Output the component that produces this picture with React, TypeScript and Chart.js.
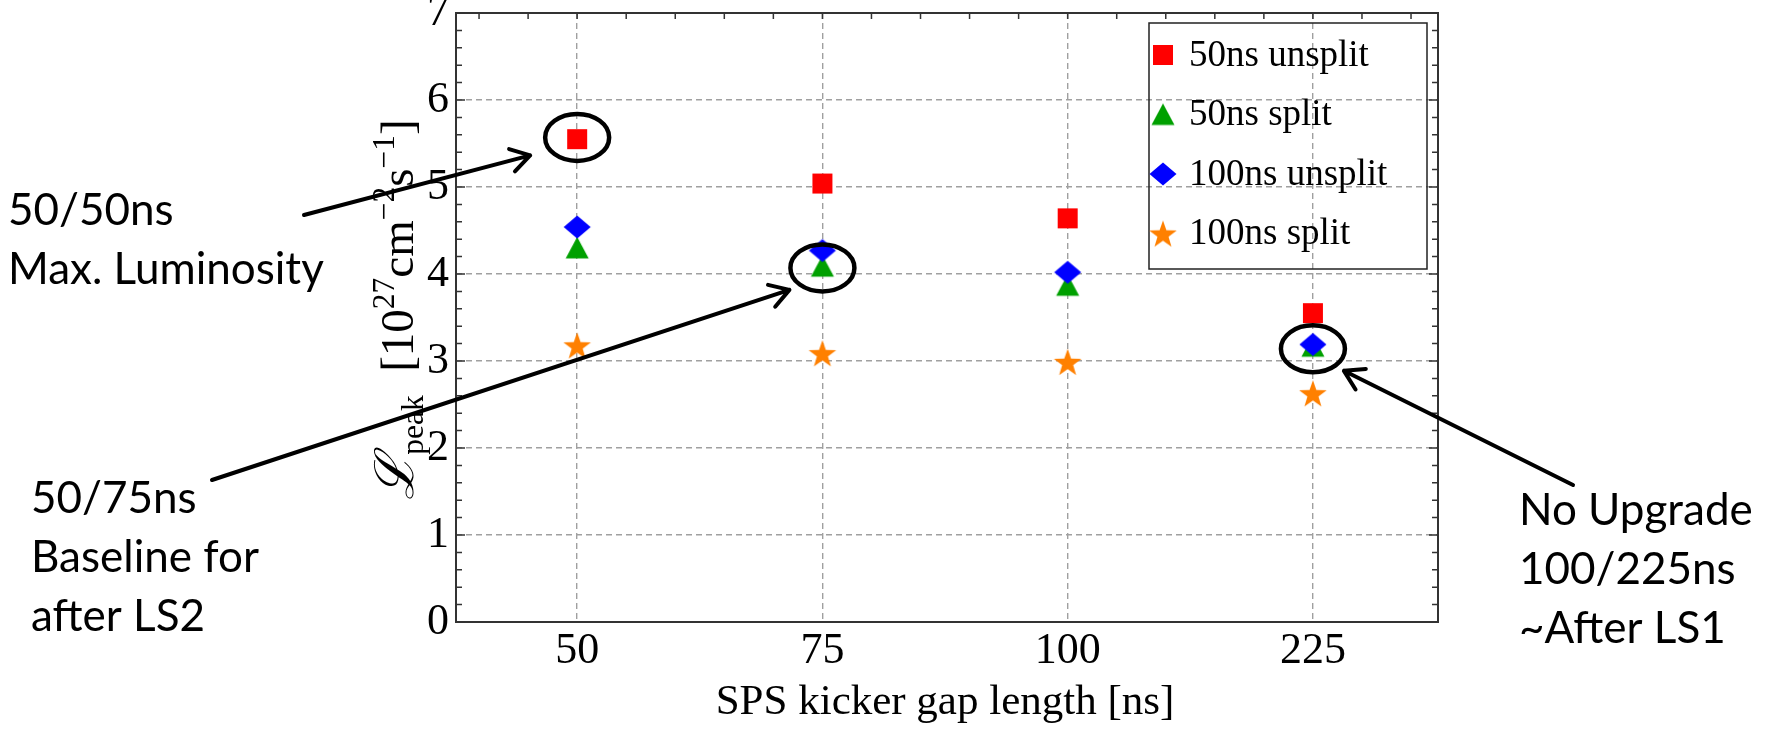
import React, { useEffect, useRef } from 'react';
import { Chart, registerables } from 'chart.js';

Chart.register(...registerables);

// SPS kicker gap lengths (category axis) and peak luminosity per beam variant
const gapLabels = ['50', '75', '100', '225'];
const unsplit50ns = [5.55, 5.04, 4.64, 3.55];
const split50ns = [4.3, 4.09, 3.87, 3.17];
const unsplit100ns = [4.54, 4.27, 4.02, 3.19];
const split100ns = [3.18, 3.09, 2.99, 2.63];

const seriesNames = ['50ns unsplit', '50ns split', '100ns unsplit', '100ns split'];
const seriesColors = ['#ff0000', '#00a000', '#0000ff', '#ff8000'];
const seriesShapes = ['square', 'triangle', 'diamond', 'star'];
const yTickValues = [0, 1, 2, 3, 4, 5, 6, 7];

// Highlighted scenarios: which gap, at what luminosity the ring is centred
const calloutGap = ['50', '75', '225'];
const calloutLevel = [5.57, 4.07, 3.14];
const calloutLines = [
  ['50/50ns', 'Max. Luminosity'],
  ['50/75ns', 'Baseline for', 'after LS2'],
  ['No Upgrade', '100/225ns', '~After LS1'],
];

const SERIF = '"Liberation Serif", "Times New Roman", "DejaVu Serif", serif';
const SANS = 'Lato, "Open Sans", "Noto Sans", sans-serif';

function makeMarker(shape: string, color: string): HTMLCanvasElement {
  const c = document.createElement('canvas');
  c.width = 32;
  c.height = 32;
  const g = c.getContext('2d')!;
  g.fillStyle = color;
  g.beginPath();
  const m = 16;
  if (shape === 'square') {
    g.rect(m - 10, m - 10, 20, 20);
  } else if (shape === 'triangle') {
    g.moveTo(m, m - 11);
    g.lineTo(m + 11.5, m + 10.5);
    g.lineTo(m - 11.5, m + 10.5);
    g.closePath();
  } else if (shape === 'diamond') {
    g.moveTo(m, m - 11.5);
    g.lineTo(m + 13.5, m);
    g.lineTo(m, m + 11.5);
    g.lineTo(m - 13.5, m);
    g.closePath();
  } else {
    const outer = 14.5;
    const inner = 5.8;
    for (let k = 0; k < 10; k++) {
      const r = k % 2 === 0 ? outer : inner;
      const a = -Math.PI / 2 + (k * Math.PI) / 5;
      const px = m + r * Math.cos(a);
      const py = m + 1.5 + r * Math.sin(a);
      if (k === 0) g.moveTo(px, py);
      else g.lineTo(px, py);
    }
    g.closePath();
  }
  g.fill();
  return c;
}

function drawYTitle(ctx: CanvasRenderingContext2D, cx: number, cy: number) {
  const main = 47;
  const small = 31.5;
  const parts: { t: string; font: string; dy: number }[] = [
    { t: 'ℒ', font: `italic ${main + 7}px ${SERIF}`, dy: 0 },
    { t: 'peak', font: `${small}px ${SERIF}`, dy: 10 },
    { t: '  [10', font: `${main}px ${SERIF}`, dy: 0 },
    { t: '27', font: `${small}px ${SERIF}`, dy: -19 },
    { t: 'cm', font: `${main}px ${SERIF}`, dy: 0 },
    { t: '−2', font: `${small}px ${SERIF}`, dy: -19 },
    { t: 's', font: `${main}px ${SERIF}`, dy: 0 },
    { t: '−1', font: `${small}px ${SERIF}`, dy: -19 },
    { t: ']', font: `${main}px ${SERIF}`, dy: 0 },
  ];
  ctx.save();
  ctx.translate(cx, cy);
  ctx.rotate(-Math.PI / 2);
  ctx.fillStyle = '#000';
  ctx.textBaseline = 'alphabetic';
  ctx.textAlign = 'left';
  let total = 0;
  const widths = parts.map((p) => {
    ctx.font = p.font;
    const w = ctx.measureText(p.t).width;
    total += w;
    return w;
  });
  let x = -total / 2;
  parts.forEach((p, i) => {
    ctx.font = p.font;
    ctx.fillText(p.t, x, 15 + p.dy);
    x += widths[i];
  });
  ctx.restore();
}

function drawArrow(ctx: CanvasRenderingContext2D, x0: number, y0: number, x1: number, y1: number) {
  const a = Math.atan2(y1 - y0, x1 - x0);
  const head = 22;
  const spread = 0.55;
  ctx.beginPath();
  ctx.moveTo(x0, y0);
  ctx.lineTo(x1, y1);
  ctx.moveTo(x1 - head * Math.cos(a - spread), y1 - head * Math.sin(a - spread));
  ctx.lineTo(x1, y1);
  ctx.lineTo(x1 - head * Math.cos(a + spread), y1 - head * Math.sin(a + spread));
  ctx.stroke();
}

export default function App() {
  const ref = useRef<HTMLCanvasElement>(null);

  useEffect(() => {
    const canvas = ref.current;
    if (!canvas) return;
    const markers = seriesShapes.map((s, i) => makeMarker(s, seriesColors[i]));
    const values = [unsplit50ns, split50ns, unsplit100ns, split100ns];
    const drawOrder = [0, 2, 1, 3];

    const framePlugin = {
      id: 'frame',
      afterDatasetsDraw(chart: any) {
        const { ctx, chartArea: a, scales } = chart;
        const xs = scales.x;
        const ys = scales.y;
        ctx.save();
        ctx.strokeStyle = '#333';
        ctx.lineWidth = 2;
        ctx.strokeRect(a.left, a.top, a.right - a.left, a.bottom - a.top);
        ctx.lineWidth = 1.5;
        ctx.beginPath();
        for (let k = 0; k <= 35; k++) {
          const y = ys.getPixelForValue(k * 0.2);
          const len = k % 5 === 0 ? 9 : 6;
          ctx.moveTo(a.left, y);
          ctx.lineTo(a.left + len, y);
          ctx.moveTo(a.right, y);
          ctx.lineTo(a.right - len, y);
        }
        for (let k = 3; k <= 22; k++) {
          const v = k * 0.2;
          if (v < xs.min || v > xs.max) continue;
          const x = xs.getPixelForValue(v);
          ctx.moveTo(x, a.top);
          ctx.lineTo(x, a.top + 6);
        }
        ctx.stroke();
        ctx.restore();
      },
    };

    const legendPlugin = {
      id: 'boxLegend',
      afterDraw(chart: any) {
        const { ctx, chartArea: a } = chart;
        const right = a.right - 11;
        const top = a.top + 10;
        const w = 278;
        const h = 246;
        const left = right - w;
        ctx.save();
        ctx.strokeStyle = '#222';
        ctx.lineWidth = 1.5;
        ctx.strokeRect(left, top, w, h);
        ctx.font = `37px ${SERIF}`;
        ctx.fillStyle = '#000';
        ctx.textBaseline = 'middle';
        ctx.textAlign = 'left';
        seriesNames.forEach((name, i) => {
          const cy = top + 32 + i * 59.5;
          const m = markers[i];
          ctx.drawImage(m, left + 14 - m.width / 2, cy - m.height / 2);
          ctx.fillText(name, left + 40, cy + 1);
        });
        ctx.restore();
      },
    };

    const calloutPlugin = {
      id: 'callouts',
      afterDraw(chart: any) {
        const { ctx, chartArea: a, scales } = chart;
        const xs = scales.x;
        const ys = scales.y;
        ctx.save();
        // y axis title with sub/superscripts
        drawYTitle(ctx, a.left - 58, (a.top + a.bottom) / 2 - 8);
        // x axis title
        ctx.fillStyle = '#000';
        ctx.font = `43px ${SERIF}`;
        ctx.textAlign = 'center';
        ctx.textBaseline = 'alphabetic';
        ctx.fillText('SPS kicker gap length [ns]', (a.left + a.right) / 2 - 2, a.bottom + 92);

        // rings around highlighted points
        const rings = calloutGap.map((g, i) => ({
          x: xs.getPixelForValue(gapLabels.indexOf(g) + 1),
          y: ys.getPixelForValue(calloutLevel[i]),
        }));
        ctx.strokeStyle = '#000';
        ctx.lineWidth = 4.5;
        rings.forEach((r) => {
          ctx.beginPath();
          ctx.ellipse(r.x, r.y, 32, 23.5, 0, 0, Math.PI * 2);
          ctx.stroke();
        });
        ctx.lineWidth = 4;
        ctx.lineCap = 'round';
        ctx.lineJoin = 'round';
        drawArrow(ctx, 304, 215, rings[0].x - 47, rings[0].y + 18);
        drawArrow(ctx, 212, 480, rings[1].x - 33, rings[1].y + 22);
        drawArrow(ctx, 1573, 485, rings[2].x + 31, rings[2].y + 22);

        // scenario captions
        ctx.font = `44px ${SANS}`;
        ctx.textAlign = 'left';
        ctx.fillStyle = '#000';
        const origins = [
          [8, 225],
          [31, 513],
          [1519, 525],
        ];
        calloutLines.forEach((lines, i) => {
          lines.forEach((t, j) => {
            ctx.fillText(t, origins[i][0], origins[i][1] + j * 59);
          });
        });
        ctx.restore();
      },
    };

    const gridColor = '#a0a0a0';
    const chart = new Chart(canvas, {
      type: 'scatter',
      data: {
        datasets: seriesNames.map((name, i) => ({
          label: name,
          data: values[i].map((v, j) => ({ x: j + 1, y: v })),
          pointStyle: markers[i] as any,
          pointRadius: 12,
          showLine: false,
          backgroundColor: seriesColors[i],
          borderColor: seriesColors[i],
          order: drawOrder[i],
        })),
      },
      options: {
        responsive: false,
        animation: false,
        devicePixelRatio: 1,
        layout: { padding: { left: 0, top: 13, right: 349, bottom: 0 } },
        plugins: {
          legend: { display: false },
          tooltip: { enabled: false },
        },
        scales: {
          x: {
            type: 'linear',
            min: 0.506,
            max: 4.51,
            afterBuildTicks: (s: any) => {
              s.ticks = gapLabels.map((_, i) => ({ value: i + 1 }));
            },
            afterFit: (s: any) => {
              s.height = 113;
              s.paddingLeft = 0;
              s.paddingRight = 0;
            },
            ticks: {
              callback: (v: any) => gapLabels[Math.round(v) - 1] ?? '',
              font: { family: SERIF, size: 44 },
              color: '#000',
              padding: 3,
              maxRotation: 0,
              autoSkip: false,
            },
            grid: { color: gridColor, lineWidth: 1.4, drawTicks: false },
            border: { display: false, dash: [6, 4] },
          },
          y: {
            type: 'linear',
            min: 0,
            max: 7,
            afterBuildTicks: (s: any) => {
              s.ticks = yTickValues.map((v) => ({ value: v }));
            },
            afterFit: (s: any) => {
              s.width = 456;
              s.paddingTop = 0;
              s.paddingBottom = 0;
            },
            ticks: {
              font: { family: SERIF, size: 44 },
              color: '#000',
              padding: 7,
            },
            grid: {
              color: (c: any) => (c.tick && (c.tick.value === 0 || c.tick.value === 7) ? 'rgba(0,0,0,0)' : gridColor),
              lineWidth: 1.4,
              drawTicks: false,
            },
            border: { display: false, dash: [6, 4] },
          },
        },
      },
      plugins: [framePlugin, legendPlugin, calloutPlugin],
    });
    return () => chart.destroy();
  }, []);

  return (
    <div style={{ position: 'absolute', left: 0, top: 0, width: 1787, height: 735, background: '#fff' }}>
      <canvas ref={ref} width={1787} height={735} style={{ display: 'block' }} />
    </div>
  );
}
